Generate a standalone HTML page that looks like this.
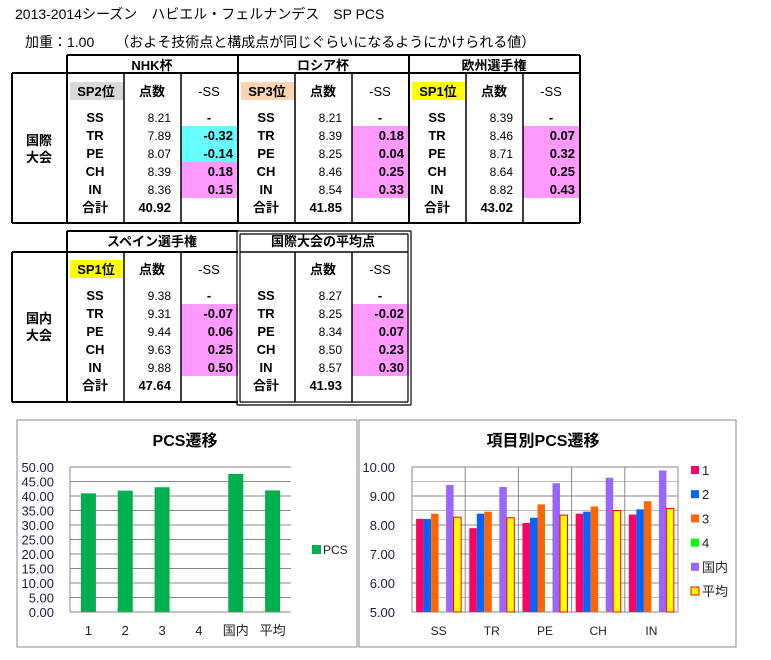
<!DOCTYPE html>
<html><head><meta charset="utf-8">
<style>
body{margin:0;background:#fff;width:771px;height:655px;overflow:hidden}
svg text{font-family:"Liberation Sans","Noto Sans CJK JP",sans-serif}
</style></head>
<body>
<svg id="s" width="771" height="655" xmlns="http://www.w3.org/2000/svg">
<text x="15" y="19" font-size="14">2013-2014シーズン　ハビエル・フェルナンデス　SP PCS</text>
<text x="25" y="47" font-size="14">加重：1.00　　（およそ技術点と構成点が同じぐらいになるようにかけられる値）</text>
<g id="tables"></g>
<g id="c1"></g>
<g id="c2"></g>
</svg>
<script>
const NS="http://www.w3.org/2000/svg";
function mk(p,tag,a,txt){const e=document.createElementNS(NS,tag);for(const k in a)e.setAttribute(k,a[k]);if(txt!==undefined)e.textContent=txt;p.appendChild(e);return e;}
const T=document.getElementById('tables');
// ---- table data ----
const items=["SS","TR","PE","CH","IN"];
const comps=[
 {name:"NHK杯",rank:"SP2位",rc:"#D9D9D9",vals:["8.21","7.89","8.07","8.39","8.36"],ss:["-","-0.32","-0.14","0.18","0.15"],tot:"40.92"},
 {name:"ロシア杯",rank:"SP3位",rc:"#FBD4B4",vals:["8.21","8.39","8.25","8.46","8.54"],ss:["-","0.18","0.04","0.25","0.33"],tot:"41.85"},
 {name:"欧州選手権",rank:"SP1位",rc:"#FFFF00",vals:["8.39","8.46","8.71","8.64","8.82"],ss:["-","0.07","0.32","0.25","0.43"],tot:"43.02"},
 {name:"スペイン選手権",rank:"SP1位",rc:"#FFFF00",vals:["9.38","9.31","9.44","9.63","9.88"],ss:["-","-0.07","0.06","0.25","0.50"],tot:"47.64"},
 {name:"国際大会の平均点",rank:"",rc:"",vals:["8.27","8.25","8.34","8.50","8.57"],ss:["-","-0.02","0.07","0.23","0.30"],tot:"41.93"}
];
function group(c,x0,yh,yl){
 let t=mk(T,'text',{x:x0+85,y:yh+15,'font-size':13,'font-weight':'bold','text-anchor':'middle'},c.name);
 
 
 if(c.rank){
  let r=mk(T,'rect',{x:x0+3,y:yl-9,width:54,height:18,fill:c.rc});
  
  
  let rt=mk(T,'text',{x:x0+29,y:yl+5,'font-size':13,'font-weight':'bold','text-anchor':'middle'},c.rank);
  
  
 }
 let h1=mk(T,'text',{x:x0+85,y:yl+5,'font-size':13,'font-weight':'bold','text-anchor':'middle'},"点数");
 
 
 let h2=mk(T,'text',{x:x0+142,y:yl+5,'font-size':13,'text-anchor':'middle'},"-SS");
 
 
 for(let i=0;i<5;i++){
  const y=yl+26+18*i;
  if(i>0){
   const neg=c.ss[i].startsWith('-')&&c.name==="NHK杯";
   let bg=mk(T,'rect',{x:x0+114,y:y-9,width:57,height:18,fill:neg?"#66FFFF":"#FF99FF"});
   
   
  }
  let a=mk(T,'text',{x:x0+28,y:y+5,'font-size':13,'font-weight':'bold','text-anchor':'middle'},items[i]);
  
  
  let b=mk(T,'text',{x:x0+104,y:y+5,'font-size':12,'text-anchor':'end'},c.vals[i]);
  
  
  let d=mk(T,'text',{x:i?x0+166:x0+142,y:y+5,'font-size':13,'font-weight':'bold','text-anchor':i?'end':'middle'},c.ss[i]);
  
  
 }
 const yt=yl+26+90;
 let s=mk(T,'text',{x:x0+28,y:yt+5,'font-size':13,'font-weight':'bold','text-anchor':'middle'},"合計");
 
 
 let v=mk(T,'text',{x:x0+104,y:yt+5,'font-size':13,'font-weight':'bold','text-anchor':'end'},c.tot);
 
 
}
function ln(x1,y1,x2,y2,w){let l=mk(T,'line',{x1,y1,x2,y2,stroke:'#000','stroke-width':w||1.5});
 
 }
// table 1
group(comps[0],67,55,91);group(comps[1],238,55,91);group(comps[2],409,55,91);
ln(67,55,580,55,2);ln(12,73,580,73,2);ln(12,223,580,223,2);ln(12,73,12,223,2);
[67,238,409,580].forEach(x=>ln(x,55,x,223,2));
[124,181,295,352,466,523].forEach(x=>ln(x,73,x,223,1.5));
let l1=mk(T,'text',{x:39,y:145,'font-size':13,'font-weight':'bold','text-anchor':'middle'},"国際");


let l2=mk(T,'text',{x:39,y:162,'font-size':13,'font-weight':'bold','text-anchor':'middle'},"大会");


// table 2
group(comps[3],67,231,269);group(comps[4],238,231,269);
ln(67,231,238,231,2);ln(12,252,238,252,2);ln(12,402,238,402,2);ln(12,252,12,402,2);ln(67,231,67,402,2);
[124,181].forEach(x=>ln(x,252,x,402,1.5));
ln(237,231,411,231,1.2);ln(237,405,411,405,1.2);ln(237,231,237,405,1.2);ln(411,231,411,405,1.2);
ln(240,234,408,234,1.2);ln(240,402,408,402,1.2);ln(240,234,240,402,1.2);ln(408,234,408,402,1.2);
ln(240,252,408,252,1.5);[295,352].forEach(x=>ln(x,252,x,402,1.5));
let l3=mk(T,'text',{x:39,y:323,'font-size':13,'font-weight':'bold','text-anchor':'middle'},"国内");


let l4=mk(T,'text',{x:39,y:340,'font-size':13,'font-weight':'bold','text-anchor':'middle'},"大会");


</script>
<script>
// ---- chart 1 data ----
const pcsCats=["1","2","3","4","国内","平均"];
const pcsVals=[40.92,41.85,43.02,null,47.64,41.93];
const pcsTicks=["0.00","5.00","10.00","15.00","20.00","25.00","30.00","35.00","40.00","45.00","50.00"];
// ---- chart 2 data ----
const itemCats=["SS","TR","PE","CH","IN"];
const seriesNames=["1","2","3","4","国内","平均"];
const s1=[8.21,7.89,8.07,8.39,8.36];
const s2=[8.21,8.39,8.25,8.46,8.54];
const s3=[8.39,8.46,8.71,8.64,8.82];
const s4=[null,null,null,null,null];
const sDom=[9.38,9.31,9.44,9.63,9.88];
const sAvg=[8.27,8.25,8.34,8.50,8.57];
const itemTicks=["5.00","6.00","7.00","8.00","9.00","10.00"];
(function(){
 const G=document.getElementById('c1');
 let b=mk(G,'rect',{x:17,y:420,width:340,height:227,fill:'#fff',stroke:'#888','stroke-width':1});
 
 
 let t=mk(G,'text',{x:185,y:446,'font-size':16,'font-weight':'bold','text-anchor':'middle'},"PCS遷移");
 
 
 const x0=70,x1=291,yT=467,yB=612,vmin=0,vmax=50;
 const Y=v=>yB-(v-vmin)/(vmax-vmin)*(yB-yT);
 const cw=(x1-x0)/pcsCats.length;
 pcsTicks.forEach(tk=>{const y=Y(parseFloat(tk));
  let g=mk(G,'line',{x1:x0,y1:y,x2:x1,y2:y,stroke:'#888'});
  
  
  let l=mk(G,'text',{x:54,y:y+5,'font-size':13,'text-anchor':'end',fill:'#1a1a50'},tk);
  
  });
 let ax=mk(G,'line',{x1:x0,y1:yT,x2:x0,y2:yB,stroke:'#888'});
 
 
 pcsCats.forEach((c,i)=>{const cx=x0+cw*(i+0.5);
  if(pcsVals[i]!=null){
   let r=mk(G,'rect',{x:cx-7.5,y:Y(pcsVals[i]),width:15,height:yB-Y(pcsVals[i]),fill:'#00B050'});
   
   }
  let l=mk(G,'text',{x:cx,y:635,'font-size':13,'text-anchor':'middle',fill:'#222'},c);
  
  });
 let lg=mk(G,'rect',{x:312,y:545,width:9,height:9,fill:'#00B050'});
 
 
 let lt=mk(G,'text',{x:323,y:554,'font-size':12,fill:'#222'},"PCS");
 
 
})();
(function(){
 const G=document.getElementById('c2');
 let b=mk(G,'rect',{x:359,y:420,width:377,height:227,fill:'#fff',stroke:'#888','stroke-width':1});
 
 
 let t=mk(G,'text',{x:543,y:446,'font-size':16,'font-weight':'bold','text-anchor':'middle'},"項目別PCS遷移");
 
 
 const x0=412,x1=678,yT=467,yB=612,vmin=5,vmax=10;
 const Y=v=>yB-(v-vmin)/(vmax-vmin)*(yB-yT);
 const cw=(x1-x0)/itemCats.length;
 for(let k=0;k<10;k++){const y=Y(5+k*0.5);
  let g=mk(G,'line',{x1:x0,y1:y,x2:x1,y2:y,stroke:k%2?'#bbb':'#888'});
  
  }
 let tg=mk(G,'line',{x1:x0,y1:yT,x2:x1,y2:yT,stroke:'#888'});
 
 
 itemTicks.forEach(tk=>{const y=Y(parseFloat(tk));
  let l=mk(G,'text',{x:395,y:y+5,'font-size':13,'text-anchor':'end',fill:'#1a1a50'},tk);
  
  });
 for(let i=0;i<=itemCats.length;i++){
  let v=mk(G,'line',{x1:x0+cw*i,y1:yT,x2:x0+cw*i,y2:yB,stroke:'#888'});
  
  }
 const series=[s1,s2,s3,s4,sDom,sAvg];
 const cols=['#FF0066','#0066FF','#FF6600','#00FF00','#9966FF','#FFFF00'];
 const bw=7.5;
 itemCats.forEach((c,i)=>{const cs=x0+cw*i+(cw-6*bw)/2;
  series.forEach((s,j)=>{if(s[i]==null)return;
   const a={x:cs+j*bw,y:Y(s[i]),width:bw,height:yB-Y(s[i]),fill:cols[j]};
   if(j==5){a.stroke='#FF0000';a['stroke-width']=1;}
   let r=mk(G,'rect',a);
   
   });
  let l=mk(G,'text',{x:x0+cw*(i+0.5),y:635,'font-size':12,'text-anchor':'middle',fill:'#222'},c);
  
  });
 seriesNames.forEach((n,j)=>{const y=470+24.2*j;
  const a={x:691,y:y-4,width:8,height:8,fill:cols[j]};
  if(j==5){a.stroke='#FF0000';}
  let r=mk(G,'rect',a);
  
  
  let l=mk(G,'text',{x:702,y:y+5,'font-size':13,fill:'#222'},n);
  
  });
})();
</script>
</body></html>
